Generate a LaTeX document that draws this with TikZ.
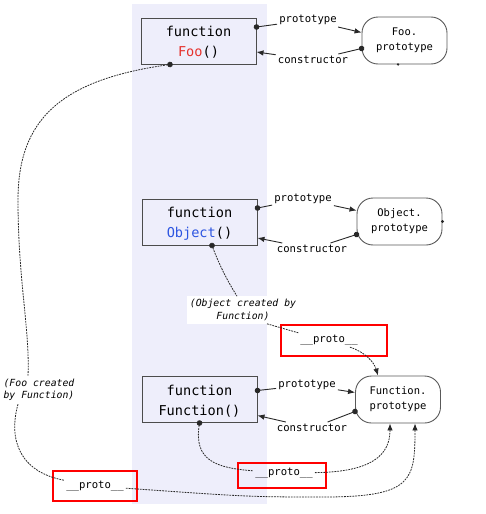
\documentclass[tikz,border=0pt]{standalone}
\usepackage{fontspec}
\setmonofont{DejaVu Sans Mono}
\usepackage{tikz}
\usetikzlibrary{arrows.meta,positioning}
\usepackage{xcolor}
\definecolor{band}{RGB}{238,238,251}
\definecolor{fooRed}{RGB}{230,50,45}
\definecolor{objBlue}{RGB}{45,85,225}
\definecolor{edge}{RGB}{40,40,40}

\begin{document}
\begin{tikzpicture}[x=1pt,y=-1pt]

\tikzset{fn box/.style={
    draw=black!70, line width=1pt,
    minimum width=115pt, minimum height=46pt,
    align=center, inner sep=0pt,
    font=\ttfamily\fontsize{13.6}{20}\selectfont
  },
  proto node/.style={
    draw=black!65, line width=0.9pt, rounded corners=16pt,
    minimum width=85pt, minimum height=47pt,
    align=center, inner sep=0pt,
    font=\ttfamily\fontsize{10.5}{15}\selectfont
  },
  link/.style={font=\ttfamily\fontsize{10.6}{12}\selectfont, inner sep=2pt},
  note/.style={fill=white, align=center, inner sep=3pt,
    font=\ttfamily\itshape\fontsize{9.8}{12.5}\selectfont},
  red frame/.style={draw=red, line width=2pt, inner sep=0pt},
  dot/.style={edge, line width=0.9pt, {Circle[length=5.5pt]}-, shorten <=-2.75pt},
  head/.style={edge, line width=0.9pt, -{Latex[length=7pt,width=5.5pt]}},
  chain/.style={edge, line width=0.8pt, dash pattern=on 1.8pt off 1pt}
}

\useasboundingbox (0,0) rectangle (485,514);
\fill[band] (132,4) rectangle (267,504);

% the three functions and their prototypes
\node[fn box] (foo) at (198.5,41) {};
\node[fn box] (obj) at (199.5,222) {};
\node[fn box] (fun) at (199.5,399.5) {};
\node[fn box, draw=none, minimum size=0pt] (fooTxt) at ([yshift=-1.5pt]foo.center) {function\\\textcolor{fooRed}{Foo}()};
\node[fn box, draw=none, minimum size=0pt] (objTxt) at ([yshift=-1.5pt]obj.center) {function\\\textcolor{objBlue}{Object}()};
\node[fn box, draw=none, minimum size=0pt] (funTxt) at ([yshift=-1.5pt]fun.center) {function\\Function()};

\node[proto node] (foop) at (404.5,40.5) {Foo.\\prototype};
\node[proto node] (objp) at (399.5,221.5) {Object.\\prototype};
\node[proto node] (funp) at (398,399.5) {Function.\\prototype};

\fill[edge] ([xshift=-6.5pt]foop.south) circle (1.3pt);
\fill[edge] (objp.east) circle (1.6pt);

\node[link] (fooPt) at (308,20) {prototype};
\node[link] (fooCt) at (313,60) {constructor};
\node[link] (objPt) at (303,199) {prototype};
\node[link] (objCt) at (312,249) {constructor};
\node[link] (funPt) at (307,385) {prototype};
\node[link] (funCt) at (312,428) {constructor};

\draw[dot] ([yshift=14pt]foo.east) -- (fooPt);
\draw[head] (fooPt) -- ([yshift=8pt]foop.west);
\draw[dot] ([yshift=-8pt]foop.west) -- (fooCt);
\draw[head] (fooCt) -- ([yshift=-11pt]foo.east);

\draw[dot] ([yshift=14pt]obj.east) -- (objPt);
\draw[head] (objPt) -- ([yshift=11pt]objp.west);
\draw[dot] ([yshift=-13pt]objp.west) -- (objCt);
\draw[head] (objCt) -- ([yshift=-16pt]obj.east);

\draw[dot] ([yshift=9pt]fun.east) -- (funPt);
\draw[head] (funPt) -- ([yshift=7pt]funp.west);
\draw[dot] ([yshift=-12pt]funp.west) -- (funCt);
\draw[head] (funCt) -- ([yshift=-16pt]fun.east);

% __proto__ links
\node[link] (pr1) at (329,340) {\_\_proto\_\_};
\node[link] (pr2) at (284,473) {\_\_proto\_\_};
\node[link] (pr3) at (95,486) {\_\_proto\_\_};
\node[red frame, minimum width=106pt, minimum height=31pt] (pr1box) at (334,340.5) {};
\node[red frame, minimum width=88pt, minimum height=25pt] (pr2box) at (282,475.5) {};
\node[red frame, minimum width=84pt, minimum height=30pt] (pr3box) at (95,486) {};

\node[note] (objLbl) at (243,310) {(Object created by\\Function)};
\node[note] (fooLbl) at (39,390) {(Foo created\\by Function)};

\draw[chain, {Circle[length=5.5pt]}-, shorten <=-2.75pt] ([xshift=-28.5pt]foo.south)
   .. controls (60,80) and (18,120) .. (18,200)
   .. controls (18,280) and (30,330) .. ([xshift=-11pt]fooLbl.north);
\draw[chain] ([xshift=-21pt]fooLbl.south) .. controls (8,440) and (20,472) .. (pr3);
\draw[chain, -{Latex[length=7pt,width=5.5pt]}] (pr3)
   .. controls (250,497) .. (330,497)
   .. controls (412,496) and (415,480) .. ([xshift=17pt]funp.south);

\draw[chain, {Circle[length=5.5pt]}-, shorten <=-2.75pt] ([xshift=12.5pt]obj.south)
   .. controls (222,272) and (232,288) .. ([xshift=-6pt]objLbl.north);
\draw[chain] ([xshift=24pt]objLbl.south) .. controls (282,329) .. (pr1);
\draw[chain, -{Latex[length=7pt,width=5.5pt]}] ([xshift=-10pt]pr1.south east)
   .. controls (365,352) and (374,362) .. ([xshift=-20pt]funp.north);

\draw[chain, {Circle[length=5.5pt]}-, shorten <=-2.75pt] (fun.south)
   .. controls (194,460) and (215,468) .. (pr2);
\draw[chain, -{Latex[length=7pt,width=5.5pt]}] (pr2)
   .. controls (372,472) and (390,455) .. ([xshift=-8pt]funp.south);

\end{tikzpicture}
\end{document}
